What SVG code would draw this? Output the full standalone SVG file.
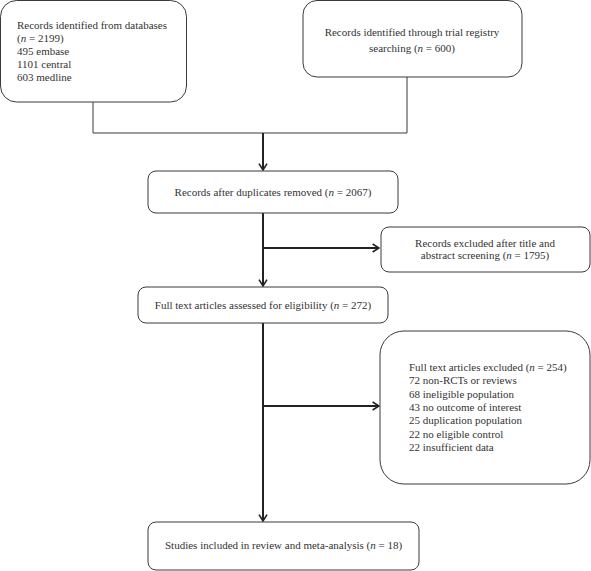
<svg xmlns="http://www.w3.org/2000/svg" width="591" height="571" viewBox="0 0 591 571">
<style>
.box{fill:#fff;stroke:#3a3a3a;stroke-width:1}
.t{font-family:"Liberation Serif","Times New Roman",serif;font-size:11px;fill:#333}
.c{text-anchor:middle}
.thin{fill:none;stroke:#3a3a3a;stroke-width:1}
.thick{fill:none;stroke:#222;stroke-width:2}
</style>
<defs>
<marker id="arr" viewBox="0 0 10 12" refX="9" refY="6" markerWidth="8" markerHeight="10" orient="auto" markerUnits="userSpaceOnUse">
<path d="M1,1 L9,6 L1,11" fill="none" stroke="#222" stroke-width="2"/>
</marker>
</defs>
<rect width="591" height="571" fill="#fff"/>
<g id="connectors">
<polyline class="thin" points="93,102 93,133 407,133 407,77"/>
<line class="thick" x1="263" y1="133" x2="263" y2="170" marker-end="url(#arr)"/>
<line class="thick" x1="263" y1="213" x2="263" y2="286" marker-end="url(#arr)"/>
<line class="thick" x1="263" y1="248" x2="379" y2="248" marker-end="url(#arr)"/>
<line class="thick" x1="263" y1="323" x2="263" y2="521" marker-end="url(#arr)"/>
<line class="thick" x1="263" y1="406" x2="379" y2="406" marker-end="url(#arr)"/>
</g>
<g id="n1">
<rect class="box" x="0.5" y="0.5" width="186" height="101.5" rx="16"/>
<text class="t" x="17" y="29">Records identified from databases</text>
<text class="t" x="17" y="42">(<tspan font-style="italic">n</tspan> = 2199)</text>
<text class="t" x="17" y="55">495 embase</text>
<text class="t" x="17" y="68">1101 central</text>
<text class="t" x="17" y="81">603 medline</text>
</g>
<g id="n2">
<rect class="box" x="303" y="0.5" width="219" height="76.5" rx="14"/>
<text class="t c" x="412" y="36">Records identified through trial registry</text>
<text class="t c" x="412" y="52">searching (<tspan font-style="italic">n</tspan> = 600)</text>
</g>
<g id="n3">
<rect class="box" x="148" y="171" width="250" height="42" rx="8"/>
<text class="t c" x="273" y="196">Records after duplicates removed (<tspan font-style="italic">n</tspan> = 2067)</text>
</g>
<g id="n4">
<rect class="box" x="381" y="227" width="209" height="45" rx="8"/>
<text class="t c" x="485" y="247">Records excluded after title and</text>
<text class="t c" x="485" y="259">abstract screening (<tspan font-style="italic">n</tspan> = 1795)</text>
</g>
<g id="n5">
<rect class="box" x="138" y="287" width="250" height="36" rx="8"/>
<text class="t c" x="263" y="309">Full text articles assessed for eligibility (<tspan font-style="italic">n</tspan> = 272)</text>
</g>
<g id="n6">
<rect class="box" x="380" y="331" width="210" height="153" rx="24"/>
<text class="t" x="409" y="371">Full text articles excluded (<tspan font-style="italic">n</tspan> = 254)</text>
<text class="t" x="409" y="384.3">72 non-RCTs or reviews</text>
<text class="t" x="409" y="397.6">68 ineligible population</text>
<text class="t" x="409" y="410.9">43 no outcome of interest</text>
<text class="t" x="409" y="424.2">25 duplication population</text>
<text class="t" x="409" y="437.5">22 no eligible control</text>
<text class="t" x="409" y="450.8">22 insufficient data</text>
</g>
<g id="n7">
<rect class="box" x="148" y="522" width="271" height="48" rx="8"/>
<text class="t" x="165" y="549">Studies included in review and meta-analysis (<tspan font-style="italic">n</tspan> = 18)</text>
</g>
</svg>
